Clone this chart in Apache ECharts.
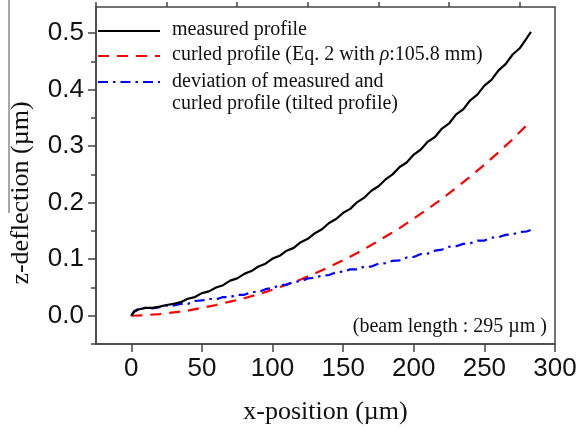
<!DOCTYPE html>
<html><head><meta charset="utf-8">
<script src="https://cdn.jsdelivr.net/npm/echarts@6/dist/echarts.min.js"></script>
<style>html,body{margin:0;padding:0;background:#fff}#c{width:579px;height:428px}</style>
</head><body><div id="c"></div>
<script>
// ---- data ----
const xMeasured = [0,2,5,10,15,20,25,30,35,40,45,50,55,60,65,70,75,80,85,90,95,100,105,110,115,120,125,130,135,140,145,150,155,160,165,170,175,180,185,190,195,200,205,210,215,220,225,230,235,240,245,250,255,260,265,270,275,280,283];
const yMeasured = [0.000,0.007,0.011,0.014,0.014,0.016,0.019,0.021,0.024,0.030,0.033,0.040,0.043,0.050,0.054,0.062,0.066,0.074,0.079,0.087,0.092,0.101,0.106,0.115,0.120,0.130,0.136,0.146,0.153,0.164,0.171,0.182,0.189,0.201,0.209,0.221,0.229,0.241,0.250,0.263,0.271,0.285,0.294,0.308,0.316,0.331,0.340,0.356,0.365,0.381,0.391,0.407,0.417,0.434,0.445,0.462,0.473,0.491,0.502];

const xCurled = [0,10,20,30,40,50,60,70,80,90,100,110,120,130,140,150,160,170,180,190,200,210,220,230,240,250,260,270,280,283];
const yCurled = [0.000,0.001,0.003,0.006,0.009,0.014,0.019,0.025,0.031,0.038,0.046,0.055,0.064,0.075,0.086,0.098,0.111,0.125,0.140,0.155,0.172,0.189,0.207,0.226,0.246,0.267,0.289,0.312,0.337,0.345];

const xTilted = [0,2,5,10,15,20,25,30,35,40,45,50,55,60,65,70,75,80,85,90,95,100,105,110,115,120,125,130,135,140,145,150,155,160,165,170,175,180,185,190,195,200,205,210,215,220,225,230,235,240,245,250,255,260,265,270,275,280,283];
const yTilted = [0.000,0.008,0.012,0.014,0.013,0.015,0.018,0.018,0.021,0.021,0.026,0.027,0.030,0.029,0.033,0.033,0.037,0.037,0.042,0.042,0.047,0.049,0.054,0.055,0.060,0.061,0.066,0.067,0.071,0.072,0.077,0.078,0.082,0.082,0.087,0.087,0.092,0.093,0.097,0.098,0.103,0.104,0.109,0.110,0.115,0.117,0.122,0.123,0.127,0.128,0.133,0.133,0.138,0.139,0.143,0.144,0.148,0.149,0.152];

const xMajor = [0,50,100,150,200,250,300];
const xMinor = [-25,25,75,125,175,225,275];
const yMajor = [0.0,0.1,0.2,0.3,0.4,0.5];
const yMinor = [-0.05,0.05,0.15,0.25,0.35,0.45];

const seriesNames = ['measured profile','curled profile (Eq. 2 with ρ:105.8 mm)','deviation of measured and\ncurled profile (tilted profile)'];

function pairs(xs, ys){ return xs.map((x,i)=>[x, ys[i]]); }

const chart = echarts.init(document.getElementById('c'), null, {renderer:'canvas'});
const axisColor = '#444';
const tickFont = {fontFamily:'Liberation Sans', fontSize:26, color:'#111'};
const serif = 'Liberation Serif';

const baseX = {type:'value', min:-25, max:300, gridIndex:0, splitLine:{show:false}};
const baseY = {type:'value', min:-0.05, max:0.546, gridIndex:0, splitLine:{show:false}};

const option = {
  animation:false,
  backgroundColor:'#fff',
  grid:{left:96, right:24, top:7, bottom:84, containLabel:false, outerBoundsMode:'none', show:true, borderColor:axisColor, borderWidth:1.5, backgroundColor:'transparent'},
  xAxis:[
    Object.assign({}, baseX, {
      axisLine:{show:true, onZero:false, lineStyle:{color:axisColor, width:1.5}},
      axisTick:{show:true, length:8, customValues:xMajor, lineStyle:{color:axisColor, width:1.5}},
      axisLabel:Object.assign({show:true, margin:12, customValues:xMajor, formatter:v=>String(Math.round(v))}, tickFont),
      name:'x-position (µm)', nameLocation:'middle', nameGap:55,
      nameTextStyle:{fontFamily:serif, fontSize:26, color:'#111'}
    }),
    Object.assign({}, baseX, {
      axisLine:{show:false, onZero:false},
      axisTick:{show:true, length:5, customValues:xMinor, lineStyle:{color:axisColor, width:1.5}},
      axisLabel:{show:false}
    })
  ],
  yAxis:[
    Object.assign({}, baseY, {
      axisLine:{show:true, onZero:false, lineStyle:{color:axisColor, width:1.5}},
      axisTick:{show:true, length:8, customValues:yMajor, lineStyle:{color:axisColor, width:1.5}},
      axisLabel:Object.assign({show:true, margin:12, customValues:yMajor, formatter:v=>v.toFixed(1)}, tickFont)
    }),
    Object.assign({}, baseY, {
      position:'left',
      axisLine:{show:false, onZero:false},
      axisTick:{show:true, length:5, customValues:yMinor, lineStyle:{color:axisColor, width:1.5}},
      axisLabel:{show:false}
    })
  ],
  series:[
    {name:seriesNames[0], type:'line', data:pairs(xMeasured,yMeasured), showSymbol:false, symbol:'none',
     lineStyle:{color:'#000', width:2.2}, z:3},
    {name:seriesNames[1], type:'line', data:pairs(xCurled,yCurled), showSymbol:false, symbol:'none',
     lineStyle:{color:'#ff0000', width:2.2, type:[11,8]}, z:2},
    {name:seriesNames[2], type:'line', data:pairs(xTilted,yTilted), showSymbol:false, symbol:'none',
     lineStyle:{color:'#0000ff', width:2.2, type:[10,5,2.5,5]}, z:2}
  ],
  graphic:[
    // scan artifact line at left edge
    {type:'line', shape:{x1:9, y1:0, x2:9, y2:213}, style:{stroke:'#8a8a8a', lineWidth:1.5}},
    // legend
    {type:'line', shape:{x1:98, y1:31, x2:160, y2:31}, style:{stroke:'#000', lineWidth:2.2}},
    {type:'line', shape:{x1:98, y1:56, x2:160, y2:56}, style:{stroke:'#ff0000', lineWidth:2.2, lineDash:[11,8]}},
    {type:'line', shape:{x1:98, y1:82, x2:160, y2:82}, style:{stroke:'#0000ff', lineWidth:2.2, lineDash:[10,5,2.5,5]}},
    {type:'text', left:172, top:20, style:{text:seriesNames[0], font:'20px "Liberation Serif"', fill:'#111'}},
    {type:'text', left:172, top:45, style:{
      text:'{n|curled profile (Eq. 2 with }{i|ρ}{n|:105.8 mm)}',
      rich:{n:{fontFamily:serif, fontSize:20, fill:'#111', color:'#111'}, i:{fontFamily:serif, fontSize:20, fontStyle:'italic', fill:'#111', color:'#111'}}}},
    {type:'text', left:172, top:71, style:{text:seriesNames[2], font:'20px "Liberation Serif"', fill:'#111', lineHeight:22}},
    // annotation
    {type:'text', right:32, top:317, style:{text:'(beam length : 295 µm )', font:'20px "Liberation Serif"', fill:'#111'}},
    // y axis title
    {type:'text', x:21, y:193, rotation:Math.PI/2, style:{text:'z-deflection (µm)', font:'26px "Liberation Serif"', fill:'#111', textAlign:'center', textVerticalAlign:'middle'}}
  ]
};
chart.setOption(option);
</script>
</body></html>
